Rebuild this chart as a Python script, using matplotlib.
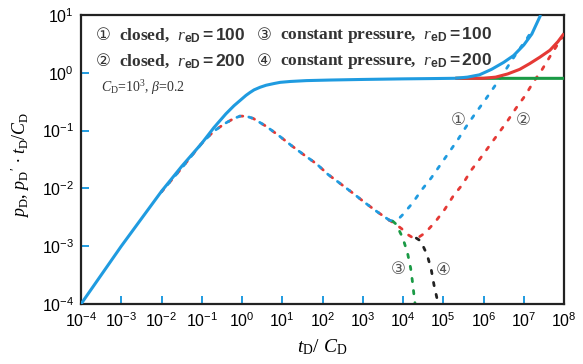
import matplotlib
matplotlib.use("Agg")
import matplotlib.pyplot as plt
import numpy as np

plt.rcParams['mathtext.fontset'] = 'custom'
plt.rcParams['mathtext.rm'] = 'Liberation Serif'
plt.rcParams['mathtext.it'] = 'Liberation Serif:italic'
plt.rcParams['mathtext.bf'] = 'Liberation Serif:bold'
plt.rcParams['mathtext.sf'] = 'Liberation Sans:bold'

# ---------------- data (log10 of t_D/C_D and of p) ----------------
# pD, common early part (wellbore storage -> radial flow)
pd_common_logt = [-4, -3, -2, -1.5, -1, -0.7, -0.4, -0.2, 0.0, 0.1, 0.2, 0.3, 0.45, 0.6, 0.8, 0.95, 1.2, 1.6, 2.2, 3, 4, 4.7, 5.3]
pd_common_logp = [-4, -3, -2.05, -1.62, -1.22, -0.95, -0.71, -0.57, -0.45, -0.39, -0.34, -0.295, -0.25, -0.215, -0.185, -0.165, -0.15, -0.135, -0.125, -0.115, -0.105, -0.10, -0.095]
# pD closed reD=100 (late)
pd_c100_logt = [5.3, 5.6, 5.9, 6.2, 6.5, 6.75, 7.0, 7.2, 7.42]
pd_c100_logp = [-0.095, -0.075, -0.035, 0.06, 0.18, 0.3, 0.48, 0.67, 1.0]
# pD closed reD=200 (late)
pd_c200_logt = [5.3, 6.0, 6.3, 6.6, 6.9, 7.15, 7.4, 7.65, 7.85, 8.0]
pd_c200_logp = [-0.095, -0.095, -0.075, -0.02, 0.06, 0.16, 0.27, 0.39, 0.54, 0.68]
# pD constant pressure (late)
pd_cp_logt = [5.3, 6.0, 7.0, 8.0]
pd_cp_logp = [-0.095, -0.096, -0.096, -0.096]

# derivative, common part
dp_common_logt = [-2, -1.5, -1.0, -0.7, -0.42, -0.2, -0.05, 0.1, 0.28, 0.61, 0.94, 1.23, 1.52, 1.86, 2.14, 2.43, 2.77, 3.06, 3.35, 3.66]
dp_common_logp = [-2.06, -1.65, -1.22, -1.01, -0.875, -0.79, -0.75, -0.75, -0.79, -0.93, -1.10, -1.26, -1.41, -1.58, -1.76, -1.91, -2.09, -2.25, -2.40, -2.55]
# derivative closed reD=100
dp_c100_logt = [3.66, 3.78, 3.9, 4.0, 4.24, 4.46, 4.70, 4.92, 5.14, 5.36, 5.57, 5.79, 6.01, 6.23, 6.45, 6.66, 6.87, 7.05, 7.25]
dp_c100_logp = [-2.55, -2.57, -2.52, -2.45, -2.25, -2.03, -1.82, -1.60, -1.38, -1.16, -0.93, -0.71, -0.50, -0.28, -0.06, 0.17, 0.39, 0.56, 0.78]
# derivative closed reD=200
dp_c200_logt = [3.66, 3.82, 3.97, 4.12, 4.26, 4.4, 4.55, 4.80, 5.04, 5.25, 5.48, 5.69, 5.91, 6.14, 6.37, 6.59, 6.81, 7.03, 7.24, 7.45, 7.65, 7.85, 8.0]
dp_c200_logp = [-2.55, -2.62, -2.70, -2.80, -2.86, -2.84, -2.77, -2.58, -2.36, -2.13, -1.93, -1.69, -1.49, -1.27, -1.05, -0.84, -0.61, -0.40, -0.16, 0.05, 0.28, 0.50, 0.66]
# derivative constant pressure reD=100
dp_p100_logt = [3.75, 3.83, 3.99, 4.11, 4.19, 4.24, 4.28, 4.30]
dp_p100_logp = [-2.57, -2.62, -2.85, -3.11, -3.38, -3.64, -3.89, -4.0]
# derivative constant pressure reD=200
dp_p200_logt = [4.33, 4.44, 4.60, 4.70, 4.77, 4.85, 4.87]
dp_p200_logp = [-2.86, -2.91, -3.15, -3.40, -3.67, -3.92, -4.0]

xtick_exp = list(range(-4, 9))
ytick_exp = list(range(-4, 2))

BLUE = '#1f9be0'
RED = '#e53935'
GREEN = '#1a9a45'
BLACK = '#222222'

def P(a):
    return 10.0 ** np.asarray(a, dtype=float)

fig = plt.figure(figsize=(5.83, 3.64), dpi=100)
W, H = 583, 364
ax = fig.add_axes([81 / W, 1 - 304 / H, (564 - 81) / W, (304 - 15) / H])
ax.set_xscale('log')
ax.set_yscale('log')
ax.set_xlim(1e-4, 1e8)
ax.set_ylim(1e-4, 1e1)

dot = dict(lw=2.0, dash_capstyle='round', zorder=2)
dpat = (0, (1.2, 3.2))
# derivatives (behind)
ax.plot(P(dp_common_logt), P(dp_common_logp), color=RED, linestyle=(0, (1.2, 3.2)), **dot)
ax.plot(P(dp_common_logt), P(dp_common_logp), color=BLUE, linestyle=(1.0, (1.2, 3.2)), **dot)
ax.plot(P(dp_c200_logt), P(dp_c200_logp), color=RED, linestyle=dpat, **dot)
ax.plot(P(dp_c100_logt), P(dp_c100_logp), color=BLUE, linestyle=dpat, **dot)
ax.plot(P(dp_p100_logt), P(dp_p100_logp), color=GREEN, linestyle=dpat, **dot)
ax.plot(P(dp_p200_logt), P(dp_p200_logp), color=BLACK, linestyle=dpat, **dot)

# pressures (solid)
sol = dict(lw=2.2, solid_capstyle='butt', solid_joinstyle='round', zorder=3)
ax.plot(P(pd_cp_logt), P(pd_cp_logp), color=GREEN, **sol)
ax.plot(P(pd_c200_logt), P(pd_c200_logp), color=RED, **sol)
ax.plot(P(pd_common_logt), P(pd_common_logp), color=BLUE, **sol)
ax.plot(P(pd_c100_logt), P(pd_c100_logp), color=BLUE, **sol)

# ticks
ax.set_xticks(P(xtick_exp))
ax.set_xticklabels([r'$\mathregular{10^{%d}}$' % e for e in xtick_exp])
ax.set_yticks(P(ytick_exp))
ax.set_yticklabels([r'$\mathregular{10^{%d}}$' % e for e in ytick_exp])
ax.minorticks_off()
ax.tick_params(axis='both', which='major', direction='in', length=6, width=1.4,
               color=BLUE, labelsize=11.5, pad=5)
for lab in ax.get_xticklabels() + ax.get_yticklabels():
    lab.set_family('Liberation Sans')
for s in ax.spines.values():
    s.set_linewidth(1.6)
    s.set_color('#222222')

# axis labels
fig.text(20 / W, 1 - 165 / H, r"$p_\mathrm{D}$, $p_\mathrm{D}$$'$ $\bullet$ $t_\mathrm{D}/C_\mathrm{D}$",
         rotation=90, ha='center', va='center', fontsize=13, family='Liberation Serif')
fig.text(322 / W, 1 - 347 / H, r"$t_\mathrm{D}$/ $C_\mathrm{D}$",
         ha='center', va='center', fontsize=14, family='Liberation Serif')

# legend-like annotations
circ_fam = ['DejaVu Sans', 'Noto Sans CJK SC']
TXT = '#333333'
def ftxt(x, y, s, **kw):
    fig.text(x / W, 1 - y / H, s, va='center', color=TXT, **kw)

ftxt(96, 35, '\u2460', fontsize=12, family=circ_fam)
ftxt(119, 35, r'closed,  $\mathit{r}_{\mathsf{eD}}\mathsf{=100}$', fontsize=12.5, family='Liberation Serif', weight='bold')
ftxt(257, 35, '\u2462', fontsize=12, family=circ_fam)
ftxt(280, 35, r'constant pressure,  $\mathit{r}_{\mathsf{eD}}\mathsf{=100}$', fontsize=12.5, family='Liberation Serif', weight='bold')
ftxt(96, 61, '\u2461', fontsize=12, family=circ_fam)
ftxt(119, 61, r'closed,  $\mathit{r}_{\mathsf{eD}}\mathsf{=200}$', fontsize=12.5, family='Liberation Serif', weight='bold')
ftxt(257, 61, '\u2463', fontsize=12, family=circ_fam)
ftxt(280, 61, r'constant pressure,  $\mathit{r}_{\mathsf{eD}}\mathsf{=200}$', fontsize=12.5, family='Liberation Serif', weight='bold')
ftxt(101, 88, r'$C_\mathrm{D}$=10$^3$, $\beta$=0.2', fontsize=10, family='Liberation Serif')

# curve labels
LBL = '#555555'
for (x, y, s) in [(458, 120, '\u2460'), (523, 120, '\u2461'), (398, 269, '\u2462'), (443, 270, '\u2463')]:
    fig.text(x / W, 1 - y / H, s, ha='center', va='center', fontsize=12, color=LBL, family=circ_fam)

fig.savefig('out.png', dpi=100)
